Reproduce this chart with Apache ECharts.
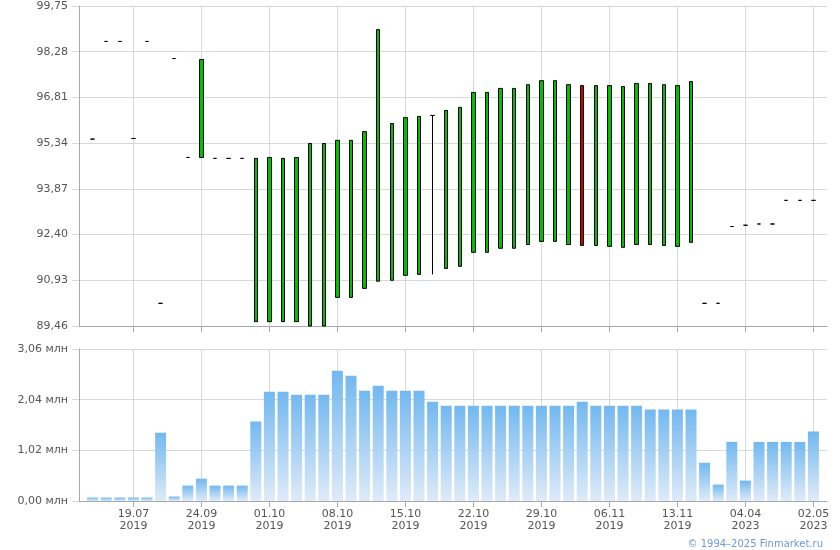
<!DOCTYPE html>
<html>
<head>
<meta charset="utf-8">
<script src="https://cdn.jsdelivr.net/npm/echarts@6/dist/echarts.min.js"></script>
<style>
html,body{margin:0;padding:0;background:#fff;}
#c{width:840px;height:550px;}
</style>
</head>
<body>
<div id="c"></div>
<script>
// ---- data ----
const categories = [
  '', '', '', '19.07\n2019', '', '', '', '', '24.09\n2019', '',
  '', '', '', '01.10\n2019', '', '', '', '', '08.10\n2019', '',
  '', '', '', '15.10\n2019', '', '', '', '', '22.10\n2019', '',
  '', '', '', '29.10\n2019', '', '', '', '', '06.11\n2019', '',
  '', '', '', '13.11\n2019', '', '', '', '', '04.04\n2023', '',
  '', '', '', '02.05\n2023'
];
const openPrices = [
  95.47, 98.61, 98.61, 95.49, 98.61, 90.19, 98.06, 94.88, 94.88, 94.85,
  94.85, 94.85, 89.60, 89.60, 89.60, 89.60, 89.46, 89.46, 90.38, 90.38,
  90.67, 90.90, 90.93, 91.09, 91.12, 96.23, 91.31, 91.38, 91.83, 91.83,
  91.96, 91.96, 92.08, 92.18, 92.18, 92.08, 97.19, 92.05, 92.02, 91.99,
  92.08, 92.08, 92.05, 92.02, 92.15, 90.19, 90.19, 92.66, 92.70, 92.74,
  92.74, 93.50, 93.50, 93.50
];
const closePrices = [
  95.47, 98.61, 98.61, 95.49, 98.61, 90.19, 98.06, 94.88, 98.03, 94.85,
  94.85, 94.85, 94.85, 94.88, 94.85, 94.88, 95.33, 95.33, 95.43, 95.43,
  95.71, 98.99, 95.97, 96.16, 96.20, 96.23, 96.39, 96.49, 96.97, 96.97,
  97.10, 97.10, 97.22, 97.35, 97.35, 97.22, 92.05, 97.19, 97.19, 97.16,
  97.26, 97.26, 97.22, 97.19, 97.32, 90.19, 90.19, 92.66, 92.70, 92.74,
  92.74, 93.50, 93.50, 93.50
];
const lowPrices = [
  95.47, 98.61, 98.61, 95.49, 98.61, 90.19, 98.06, 94.88, 94.88, 94.85,
  94.85, 94.85, 89.60, 89.60, 89.60, 89.60, 89.46, 89.46, 90.38, 90.38,
  90.67, 90.90, 90.93, 91.09, 91.12, 91.12, 91.31, 91.38, 91.83, 91.83,
  91.96, 91.96, 92.08, 92.18, 92.18, 92.08, 92.05, 92.05, 92.02, 91.99,
  92.08, 92.08, 92.05, 92.02, 92.15, 90.19, 90.19, 92.66, 92.70, 92.74,
  92.74, 93.50, 93.50, 93.50
];
const highPrices = [
  95.47, 98.61, 98.61, 95.49, 98.61, 90.19, 98.06, 94.88, 98.03, 94.85,
  94.85, 94.85, 94.85, 94.88, 94.85, 94.88, 95.33, 95.33, 95.43, 95.43,
  95.71, 98.99, 95.97, 96.16, 96.20, 96.23, 96.39, 96.49, 96.97, 96.97,
  97.10, 97.10, 97.22, 97.35, 97.35, 97.22, 97.19, 97.19, 97.19, 97.16,
  97.26, 97.26, 97.22, 97.19, 97.32, 90.19, 90.19, 92.66, 92.70, 92.74,
  92.74, 93.50, 93.50, 93.50
];
// volume, millions
const volumes = [
  0.07, 0.07, 0.07, 0.07, 0.07, 1.375, 0.09, 0.31, 0.45, 0.31,
  0.31, 0.31, 1.60, 2.20, 2.20, 2.14, 2.14, 2.14, 2.62, 2.52,
  2.22, 2.32, 2.22, 2.22, 2.22, 2.00, 1.92, 1.92, 1.92, 1.92,
  1.92, 1.92, 1.92, 1.92, 1.92, 1.92, 2.00, 1.92, 1.92, 1.92,
  1.92, 1.84, 1.84, 1.84, 1.84, 0.77, 0.33, 1.19, 0.41, 1.19,
  1.19, 1.19, 1.19, 1.40
];
const priceAxis = { min: 89.46, max: 99.75, step: 1.47 };
const volumeAxis = { min: 0, max: 3.06, step: 1.02 };
const volumeUnit = ' млн';
const copyright = '© 1994–2025 Finmarket.ru';

// ---- build ----
const cats = [''].concat(categories, ['']);
const candle = ['-'].concat(openPrices.map((o, i) => [o, closePrices[i], lowPrices[i], highPrices[i]]), ['-']);
const vol = ['-'].concat(volumes, ['-']);
const fmt = v => v.toFixed(2).replace('.', ',');
const showIdx = (i, v) => v !== '';

const FONT = 'DejaVu Sans';
const labelColor = '#555555';
const axisLineColor = '#a6a8b0';
const gridColor = '#d6d8db';

function xAxisCfg(gridIndex, showLabel) {
  return {
    type: 'category', gridIndex, data: cats, boundaryGap: false,
    axisLine: { lineStyle: { color: axisLineColor, width: 1 } },
    axisTick: { show: true, interval: showIdx, length: 6, lineStyle: { color: axisLineColor } },
    axisLabel: { show: showLabel, interval: showIdx, color: labelColor, fontFamily: FONT, fontSize: 11, lineHeight: 12, margin: 7 },
    splitLine: { show: true, interval: showIdx, lineStyle: { color: gridColor, width: 1 } }
  };
}
function yAxisCfg(gridIndex, ax, suffix) {
  return {
    type: 'value', gridIndex, min: ax.min, max: ax.max, interval: ax.step,
    axisLine: { show: true, lineStyle: { color: axisLineColor, width: 1 } },
    axisTick: { show: true, length: 7, lineStyle: { color: gridColor } },
    axisLabel: { color: labelColor, fontFamily: FONT, fontSize: 11, margin: 11, formatter: v => fmt(v) + suffix },
    splitLine: { show: true, lineStyle: { color: gridColor, width: 1 } }
  };
}

const chart = echarts.init(document.getElementById('c'), null, { renderer: 'canvas' });
chart.setOption({
  animation: false,
  backgroundColor: '#ffffff',
  grid: [
    { left: 79, right: 13, top: 6, height: 320 },
    { left: 79, right: 13, top: 349, height: 152 }
  ],
  xAxis: [xAxisCfg(0, false), xAxisCfg(1, true)],
  yAxis: [yAxisCfg(0, priceAxis, ''), yAxisCfg(1, volumeAxis, volumeUnit)],
  series: [
    {
      type: 'candlestick', xAxisIndex: 0, yAxisIndex: 0, data: candle,
      barWidth: 4,
      itemStyle: {
        color: '#00c000', color0: '#d00000',
        borderColor: '#000000', borderColor0: '#000000', borderColorDoji: '#000000',
        borderWidth: 1
      }
    },
    {
      type: 'bar', xAxisIndex: 1, yAxisIndex: 1, data: vol, barWidth: 11,
      itemStyle: {
        color: new echarts.graphic.LinearGradient(0, 0, 0, 1, [
          { offset: 0, color: '#72b8f0' },
          { offset: 1, color: '#dfebf8' }
        ])
      }
    }
  ],
  graphic: [{
    type: 'text', right: 17, bottom: 1,
    style: { text: copyright, fill: '#6f97dc', font: '10px "DejaVu Sans"' }
  }]
});
</script>
</body>
</html>
